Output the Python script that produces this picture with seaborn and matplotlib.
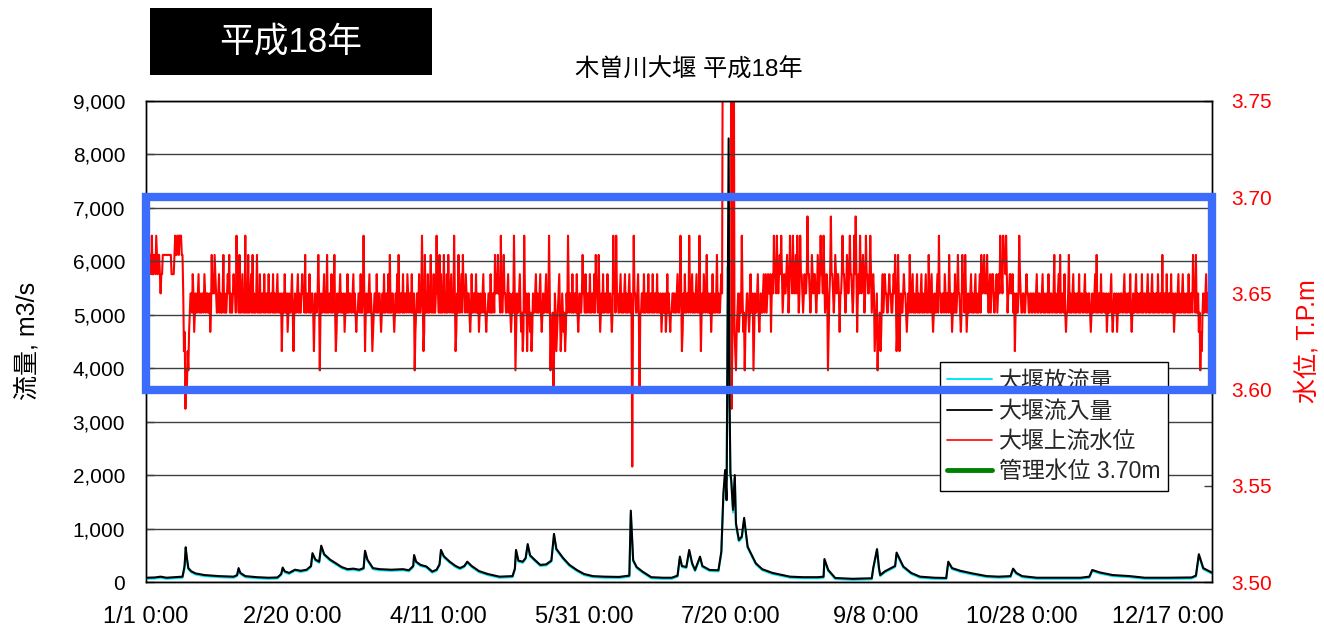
import numpy as np
import pandas as pd
import matplotlib
matplotlib.use("Agg")
import matplotlib.pyplot as plt
from matplotlib.patches import Rectangle
from matplotlib.lines import Line2D
from matplotlib.ticker import FuncFormatter
from matplotlib.transforms import blended_transform_factory
import seaborn as sns

# ---------------------------------------------------------------------------
# Data: 木曽川大堰, 平成18年 (2006)
# ---------------------------------------------------------------------------
YEAR = 2006

# Flow breakpoints, day of year (0 = 1/1 0:00)
flow_day = [
    0, 3, 5, 7, 10, 12.5, 13.2, 13.6, 14, 14.5,
    15.5, 17, 20, 25, 30, 31.2, 31.7, 32.3, 34, 38,
    42, 45, 46.3, 46.8, 47.5, 49, 51, 53, 55, 56.5,
    57, 58, 59.3, 60, 61, 63, 65, 67, 69, 71,
    73, 74.5, 75, 75.8, 77.7, 80, 84, 88, 90, 91.5,
    91.8, 92.5, 94, 96, 98, 99.5, 100.5, 101, 102, 104,
    106, 107.5, 109, 110, 111.5, 114, 117, 121, 125.5, 126.3,
    126.7, 127.5, 129, 130, 130.7, 131.5, 133, 135, 137, 138.8,
    139.7, 140.5, 142.8, 145, 147.5, 150, 153, 157, 162, 165.5,
    166, 166.8, 168, 170, 173, 177, 180, 182, 182.8, 183.5,
    185, 186, 187, 188, 189.7, 190.5, 193, 196, 197, 197.7,
    198.3, 198.8, 199.2, 199.5, 199.8, 200.1, 200.4, 201, 201.6, 202,
    203, 204, 204.8, 206, 208.8, 211, 214.5, 220.5, 225, 230,
    232, 232.3, 233.6, 236, 242, 248.5, 249, 250.3, 251, 251.4,
    253, 256.5, 257, 259.3, 262, 265, 270, 274, 274.7, 276,
    278.8, 283, 287.9, 292, 296, 296.9, 298, 300, 305, 315,
    320, 323, 324, 326.5, 331, 336.8, 342, 350, 358, 359.5,
    360.5, 362, 365,
]

# 大堰流入量 (m3/s)
inflow = [
    80, 85, 100, 80, 90, 100, 300, 650, 450, 260,
    200, 160, 130, 110, 100, 130, 260, 170, 110, 90,
    80, 85, 150, 270, 200, 170, 230, 210, 230, 300,
    540, 420, 380, 680, 520, 420, 350, 280, 240, 250,
    230, 260, 585, 420, 260, 240, 230, 240, 220, 300,
    505, 380, 320, 290, 195, 230, 330, 600, 480, 380,
    300, 260, 300, 380, 300, 205, 150, 100, 110, 250,
    600, 400, 380, 450, 710, 500, 420, 320, 330, 400,
    900, 620, 450, 320, 225, 150, 110, 100, 95, 120,
    1335, 410, 280, 195, 90, 80, 80, 120, 475, 300,
    280, 600, 350, 225, 475, 300, 225, 220, 570, 1660,
    2095, 1530, 5525, 8300, 3500, 2040, 1900, 1350, 2000, 1100,
    785, 850, 1200, 660, 350, 240, 170, 100, 90, 90,
    100, 430, 225, 75, 60, 70, 260, 615, 250, 130,
    200, 300, 550, 290, 170, 100, 80, 75, 380, 260,
    210, 160, 110, 100, 110, 250, 170, 110, 80, 80,
    80, 100, 225, 180, 130, 110, 80, 80, 85, 120,
    520, 260, 175,
]

# 大堰放流量 (m3/s)
outflow = [
    60, 65, 80, 60, 70, 80, 250, 600, 430, 240,
    180, 140, 110, 90, 80, 110, 240, 150, 90, 70,
    60, 65, 130, 250, 180, 150, 210, 190, 210, 280,
    510, 400, 360, 650, 500, 400, 330, 260, 220, 230,
    210, 240, 560, 400, 240, 220, 210, 220, 200, 280,
    480, 360, 300, 270, 175, 210, 310, 570, 460, 360,
    280, 240, 280, 360, 280, 185, 130, 80, 90, 230,
    570, 380, 360, 430, 680, 480, 400, 300, 310, 380,
    860, 600, 430, 300, 205, 130, 90, 80, 75, 100,
    1250, 390, 260, 175, 70, 60, 60, 100, 450, 280,
    260, 570, 330, 205, 450, 280, 205, 200, 540, 1600,
    2000, 1900, 5900, 5000, 3300, 2000, 1850, 1300, 1950, 1050,
    760, 820, 1150, 640, 330, 220, 150, 80, 70, 70,
    80, 400, 205, 55, 40, 50, 240, 580, 230, 110,
    180, 280, 520, 270, 150, 80, 60, 55, 360, 240,
    190, 140, 90, 80, 90, 230, 150, 90, 60, 60,
    60, 80, 205, 160, 110, 90, 60, 60, 65, 100,
    490, 240, 155,
]

# 大堰上流水位: four readings a day, one character per reading
level_code = {
    "b": 3.56, "a": 3.59,
    "0": 3.60, "1": 3.61, "2": 3.62, "3": 3.63, "4": 3.64,
    "5": 3.65, "6": 3.66, "7": 3.67, "8": 3.68, "9": 3.69,
    "H": 3.80,
}
level_jan = ("7687677686" "6776876776" "5667777777" "7777766667" "8778878887"
             "7523a10213" "4554653454" "4564544554" "6545544534" "75657654"
             "4564544574" "5445657454" "456554")
level_feb = ("8554744564" "5484547445" "6474544574" "5464455464" "4554644554"
             "6454456454" "4524546445" "3454456424" "5445645445" "6554744554"
             "644554245445")
level_mar = ("7514544564" "5474455464" "4574235445" "6454453454" "6445544564"
             "5434455464" "4585245445" "6454234554" "6445543454" "6445546474"
             "4554345464" "7445546445" "5465")
level_apr = ("4554644513" "4554644585" "2374546445" "7454644585" "5474644574"
             "5464754564" "5485235474" "4564755465" "4554346445" "5464453454"
             "4564543445" "5464455475")
level_may = ("6575548545" "7554456454" "3454851354" "4564342385" "4524543423"
             "5445645445" "6434544564" "5485133402" "5423456423" "5434235485"
             "4554644554" "6434544575" "5464")
level_jun = ("4554644554" "6475547534" "5464455464" "4554348564" "8554456454"
             "4564544564" "54b4855445" "6404455464" "4554644554" "6445546454"
             "4534544534" "6454344554")
level_jul = ("5445644585" "2354644554" "8545645445" "645485"
             "2454654574" "5445346454" "45745445"
             "65HHHHHHHHHHHHa2HH32"
             "1345345485" "3413455434" "6445135445" "6434544564")
level_aug = ("5645655635" "6586658656" "7686456556" "7645866586" "5675864586"
             "6545655696" "6545765665" "4576568665" "8645651356" "9665457656"
             "6535568665" "4576568665" "4586")
level_sep = ("9635658656" "7645866556" "8645652345" "1334235645" "6554456554"
             "4565752375" "2454456554" "3454754564" "5445645445" "6454456454"
             "7545643454" "4564855445")
level_oct = ("5465455475" "4534546445" "7554347564" "7534544564" "5445645445"
             "6475567565" "7545645665" "4556456586" "6587768645" "5665564524"
             "5445865445" "5445655445" "5445")
level_nov = ("5445644554" "4564544554" "6445544574" "5445647445" "5464344574"
             "5445645445" "5464455445" "6454455434" "5445647445" "5464455445"
             "3454456434" "5445345445")
level_dec = ("5445645445" "5464345445" "6454455464" "4554456454" "4564544554"
             "6445547445" "5464455464" "4534544564" "5445645445" "5464455475"
             "5474453413" "2454456454" "4564")

x_tick_labels = ["1/1 0:00", "2/20 0:00", "4/11 0:00", "5/31 0:00",
                 "7/20 0:00", "9/8 0:00", "10/28 0:00", "12/17 0:00"]
flow_ticks = [0, 1000, 2000, 3000, 4000, 5000, 6000, 7000, 8000, 9000]
level_ticks = [3.50, 3.55, 3.60, 3.65, 3.70, 3.75]

control_level = 3.70               # 管理水位
watch_band = (3.60, 3.70)          # highlighted operating band

# ---------------------------------------------------------------------------
# Frames
# ---------------------------------------------------------------------------
t0 = pd.Timestamp(YEAR, 1, 1)
t1 = pd.Timestamp(YEAR + 1, 1, 1)

flow_df = pd.DataFrame({
    "time": t0 + pd.to_timedelta(flow_day, unit="D"),
    "inflow": inflow,
    "outflow": outflow,
})

month_codes = [level_jan, level_feb, level_mar, level_apr, level_may, level_jun,
               level_jul, level_aug, level_sep, level_oct, level_nov, level_dec]
rows = []
for m, codes in enumerate(month_codes, start=1):
    start = pd.Timestamp(YEAR, m, 1)
    end = start + pd.offsets.MonthBegin(1)
    step = (end - start) / len(codes)
    for i, c in enumerate(codes):
        rows.append((start + i * step, level_code[c]))
level_df = pd.DataFrame(rows, columns=["time", "level"])

# ---------------------------------------------------------------------------
# Figure
# ---------------------------------------------------------------------------
sns.set_theme(style="white")
plt.rcParams["font.family"] = ["Liberation Sans", "Noto Sans CJK JP", "DejaVu Sans"]
plt.rcParams["axes.unicode_minus"] = False

W, H = 1324, 629
fig = plt.figure(figsize=(W / 100, H / 100), dpi=100)
fig.patch.set_facecolor("white")

def fx(px):
    return px / W

def fy(py):
    return 1 - py / H

ax = fig.add_axes([fx(146), fy(582), fx(1212) - fx(146), fy(101) - fy(582)])
ax2 = ax.twinx()
ax.set_zorder(ax2.get_zorder() + 1)
ax.patch.set_visible(False)

RED = "#ff0000"
CYAN = "#00e8f8"
GREEN = "#008000"
BLUE = "#3b6cfb"

# water level (right axis, underneath)
sns.lineplot(data=level_df, x="time", y="level", ax=ax2, color=RED, lw=1.5,
             estimator=None, sort=False, legend=False)
ax2.axhline(control_level, color=GREEN, lw=3.0, zorder=1)

# flow (left axis, on top)
sns.lineplot(data=flow_df, x="time", y="outflow", ax=ax, color=CYAN, lw=1.5,
             estimator=None, sort=False, legend=False)
sns.lineplot(data=flow_df, x="time", y="inflow", ax=ax, color="black", lw=1.5,
             estimator=None, sort=False, legend=False)

ax.set_xlim(t0, t1)
ax.set_ylim(flow_ticks[0], flow_ticks[-1])
ax2.set_ylim(level_ticks[0], level_ticks[-1])

tick_dates = [pd.Timestamp(f"{YEAR}/{lbl.split()[0]}") for lbl in x_tick_labels]
ax.set_xticks(tick_dates)
ax.set_xticklabels(x_tick_labels)
ax.set_yticks(flow_ticks)
ax.yaxis.set_major_formatter(FuncFormatter(lambda v, p: f"{v:,.0f}"))
ax2.set_yticks(level_ticks)
ax2.yaxis.set_major_formatter(FuncFormatter(lambda v, p: f"{v:.2f}"))

ax.set_xlabel("")
ax.set_ylabel("")
ax2.set_ylabel("")

ax.grid(False)
ax2.grid(False)
ax.yaxis.grid(True, color="#404040", lw=1.0)

for a in (ax, ax2):
    for s in a.spines.values():
        s.set_color("black")
        s.set_linewidth(1.0)
        s.set_visible(True)

ax.tick_params(axis="x", direction="in", length=6, width=1, color="#404040",
               labelsize=17, pad=17, labelcolor="black")
ax.tick_params(axis="y", direction="in", length=6, width=1, color="#404040",
               labelsize=15, pad=15, labelcolor="black")
ax2.tick_params(axis="y", direction="in", length=6, width=1, color="#404040",
                labelsize=15, pad=14, labelcolor=RED)

# axis titles
fig.text(fx(27), fy(341), "流量, m3/s", rotation=90, ha="center", va="center",
         fontsize=18, color="black")
fig.text(fx(1307), fy(341), "水位, T.P.m", rotation=90, ha="center", va="center",
         fontsize=18, color=RED)

# chart title
fig.text(fx(689), fy(70), "木曽川大堰 平成18年", ha="center", va="center",
         fontsize=17.5, color="black")

# year badge
fig.patches.append(Rectangle((fx(150), fy(75)), fx(432) - fx(150), fy(8) - fy(75),
                             transform=fig.transFigure, facecolor="black",
                             edgecolor="none", zorder=3))
fig.text(fx(291), fy(42), "平成18年", ha="center", va="center", fontsize=25,
         color="white", zorder=4)

# legend
handles = [
    Line2D([], [], color=CYAN, lw=1.4),
    Line2D([], [], color="black", lw=1.3),
    Line2D([], [], color=RED, lw=1.2),
    Line2D([], [], color=GREEN, lw=3.5),
]
labels = ["大堰放流量", "大堰流入量", "大堰上流水位", "管理水位 3.70m"]
leg = fig.legend(handles, labels, loc="upper left",
                 bbox_to_anchor=(fx(940), fy(362)), bbox_transform=fig.transFigure,
                 frameon=True, fancybox=False, framealpha=1, edgecolor="black",
                 fontsize=16.5, handlelength=1.95, handletextpad=0.3,
                 labelspacing=0.32, borderpad=0.32, borderaxespad=0)
leg.get_frame().set_linewidth(1.0)
leg.set_zorder(5)

# highlighted band across the whole year, drawn over everything
band_tf = blended_transform_factory(ax2.transAxes, ax2.transData)
band = Rectangle((0, watch_band[0]), 1, watch_band[1] - watch_band[0],
                 transform=band_tf, fill=False, edgecolor=BLUE, lw=6,
                 clip_on=False, zorder=10)
fig.add_artist(band)

fig.savefig("out.png", dpi=100, facecolor="white")
